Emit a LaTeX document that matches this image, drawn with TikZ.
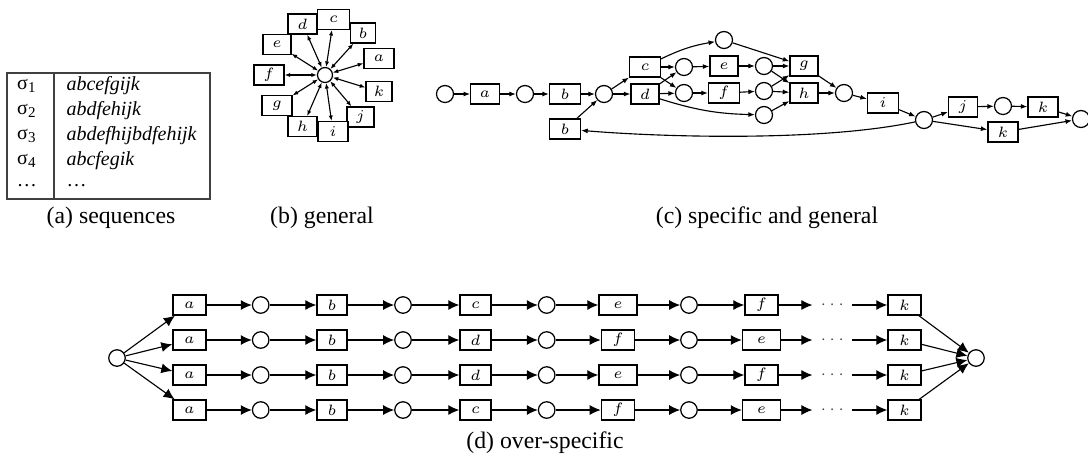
\documentclass[tikz,border=0pt]{standalone}
\usepackage{fontspec}
\setmainfont{Liberation Serif}
\usetikzlibrary{arrows.meta}
\begin{document}
\begin{tikzpicture}[x=0.4pt,y=-0.4pt,
  tbox/.style={draw, fill=white, line width=0.55pt, minimum height=8pt, minimum width=#1, inner sep=0pt, font=\fontsize{6.2}{7}\selectfont},
  tbox/.default=12pt,
  place/.style={circle, draw, fill=white, line width=0.5pt, minimum size=#1, inner sep=0pt},
  place/.default=6.8pt,
  sarc/.style={-{Latex[length=2.6pt,width=2pt]}, line width=0.45pt},
  garc/.style={{Latex[length=2.2pt,width=1.7pt]}-{Latex[length=2.2pt,width=1.7pt]}, line width=0.45pt},
  barc/.style={-{Latex[length=4.4pt,width=4pt]}, line width=0.45pt},
  captxt/.style={font=\fontsize{9.5}{11}\selectfont, inner sep=0pt},
  tabtxt/.style={font=\fontsize{8}{10}\selectfont, inner sep=0pt},
  dotnode/.style={minimum width=15.5pt, inner sep=0pt, font=\fontsize{6.5}{7}\selectfont, text=black!75},
]
\useasboundingbox (0,0) rectangle (1088,463);

% ---------------- (a) sequences
\draw[line width=0.5pt, black!75] (7,73) rectangle (210,199);
\draw[line width=0.5pt, black!75] (54,73) -- (54,199);
\node[tabtxt] (s1) at (27,85.6) {σ\textsubscript{1}};
\node[tabtxt] (s2) at (27,110.8) {σ\textsubscript{2}};
\node[tabtxt] (s3) at (27,136) {σ\textsubscript{3}};
\node[tabtxt] (s4) at (27,161) {σ\textsubscript{4}};
\node[tabtxt] (s5) at (27,186) {\dots};
\node[tabtxt, anchor=west] (w1) at (66,85.6) {\itshape abcefgijk};
\node[tabtxt, anchor=west] (w2) at (66,110.8) {\itshape abdfehijk};
\node[tabtxt, anchor=west] (w3) at (66,136) {\itshape abdefhijbdfehijk};
\node[tabtxt, anchor=west] (w4) at (66,161) {\itshape abcfegik};
\node[tabtxt, anchor=west] (w5) at (66,186) {\dots};
\node[captxt] (capa) at (111,218) {(a) sequences};

% ---------------- (b) general
\node[place=6pt] (g0) at (325,75) {};
\node[tbox=12.6pt] (gc) at (333.5,19.3) {$c$};
\node[tbox=11.6pt] (gd) at (302.5,24) {$d$};
\node[tbox=10pt]   (gb) at (363,33) {$b$};
\node[tbox=11.1pt] (ge) at (277,44.5) {$e$};
\node[tbox=12pt]   (ga) at (379,58.5) {$a$};
\node[tbox=12pt]   (gf) at (269,75) {$f$};
\node[tbox=10.4pt] (gk) at (379,91.7) {$k$};
\node[tbox=12pt]   (gg) at (277,105.3) {$g$};
\node[tbox=10.8pt] (gj) at (360.5,117) {$j$};
\node[tbox=11.6pt] (gh) at (302.5,126.7) {$h$};
\node[tbox=11.9pt] (gi) at (333,131.7) {$i$};
\foreach \nn in {a,b,c,d,e,f,g,h,i,j,k}
  \draw[garc] (g0) -- (g\nn);
\node[captxt] (capb) at (322,218) {(b) general};

% ---------------- (c) specific and general
\node[place] (p1) at (445,94) {};
\node[tbox=11.4pt] (ca) at (485,94) {$a$};
\node[place] (p2) at (525,94) {};
\node[tbox=12.3pt] (cb) at (565,94) {$b$};
\node[place] (p3) at (604,94) {};
\node[tbox=12.4pt] (cb2) at (565,129) {$b$};
\node[tbox=12.3pt] (cc) at (645,67) {$c$};
\node[tbox=11.2pt] (cd) at (645,94) {$d$};
\node[place] (p4) at (684,67) {};
\node[place] (p5) at (684,93) {};
\node[place] (ptop) at (724,40) {};
\node[tbox=11.2pt] (ce) at (724,66) {$e$};
\node[tbox=12.4pt] (cf) at (724,93) {$f$};
\node[place] (p6) at (764,66) {};
\node[place] (p7) at (764,91) {};
\node[place] (p8) at (764,115) {};
\node[tbox=11.2pt] (cg) at (804,66) {$g$};
\node[tbox=11.2pt] (ch) at (804,93) {$h$};
\node[place] (p9) at (844,93) {};
\node[tbox=12.4pt] (ci) at (883,103) {$i$};
\node[place] (p10) at (924,120) {};
\node[tbox=11.6pt] (cj) at (963,107) {$j$};
\node[place] (p11) at (1003,106) {};
\node[tbox=12pt] (ck1) at (1043,107) {$k$};
\node[tbox=12pt] (ck2) at (1003,132) {$k$};
\node[place] (p12) at (1081,119) {};

\draw[sarc] (p1) -- (ca);
\draw[sarc] (ca) -- (p2);
\draw[sarc] (p2) -- (cb);
\draw[sarc] (cb) -- (p3);
\draw[sarc] (cb2) -- (p3);
\draw[sarc] (p3) -- (cc);
\draw[sarc] (p3) -- (cd);
\draw[sarc] (cc) -- (p4);
\draw[sarc] (cc) -- (p5);
\draw[sarc] (cd) -- (p4);
\draw[sarc] (cd) -- (p5);
\draw[sarc] (cc) to[bend left=8] (ptop);
\draw[sarc] (cd) to[bend right=8] (p8);
\draw[sarc] (p4) -- (ce);
\draw[sarc] (p5) -- (cf);
\draw[sarc] (ce) -- (p6);
\draw[sarc] (cf) -- (p7);
\draw[sarc] (p6) -- (cg);
\draw[sarc] (p6) -- (ch);
\draw[sarc] (p7) -- (cg);
\draw[sarc] (p7) -- (ch);
\draw[sarc] (ptop) -- (cg);
\draw[sarc] (p8) -- (ch);
\draw[sarc] (cg) -- (p9);
\draw[sarc] (ch) -- (p9);
\draw[sarc] (p9) -- (ci);
\draw[sarc] (ci) -- (p10);
\draw[sarc] (p10) -- (cj);
\draw[sarc] (p10) -- (ck2);
\draw[sarc] (cj) -- (p11);
\draw[sarc] (p11) -- (ck1);
\draw[sarc] (ck1) -- (p12);
\draw[sarc] (ck2) -- (p12);
\draw[sarc] (p10) .. controls (820,142) and (660,137) .. (cb2);
\node[captxt] (capc) at (767,218) {(c) specific and general};

% ---------------- (d) over-specific
\node[place=6.6pt] (ds) at (117,358) {};
\node[place=6.6pt] (de) at (976,358) {};
\foreach \rr/\yy/\CC/\DD/\dw/\EE/\ew in {1/305/c/e/15.2pt/f/13.2pt, 2/340/d/f/13.3pt/e/15.2pt, 3/375/d/e/15.2pt/f/13.2pt, 4/410/c/f/13.3pt/e/15.2pt}{
  \node[tbox=13.2pt] (da\rr) at (189.5,\yy) {$a$};
  \node[place=6.6pt] (dq\rr) at (260.7,\yy) {};
  \node[tbox=12pt] (db\rr) at (332,\yy) {$b$};
  \node[place=6.6pt] (dr\rr) at (403,\yy) {};
  \node[tbox=12.4pt] (dc\rr) at (475.5,\yy) {$\CC$};
  \node[place=6.6pt] (ds\rr) at (546.7,\yy) {};
  \node[tbox=\dw] (dd\rr) at (618,\yy) {$\DD$};
  \node[place=6.6pt] (dt\rr) at (689,\yy) {};
  \node[tbox=\ew] (dx\rr) at (761.5,\yy) {$\EE$};
  \node[dotnode] (dz\rr) at (832.3,\yy) {$\cdots$};
  \node[tbox=13.2pt] (dk\rr) at (904.5,\yy) {$k$};
  \draw[barc] (ds) -- (da\rr);
  \draw[barc] (da\rr) -- (dq\rr);
  \draw[barc] (dq\rr) -- (db\rr);
  \draw[barc] (db\rr) -- (dr\rr);
  \draw[barc] (dr\rr) -- (dc\rr);
  \draw[barc] (dc\rr) -- (ds\rr);
  \draw[barc] (ds\rr) -- (dd\rr);
  \draw[barc] (dd\rr) -- (dt\rr);
  \draw[barc] (dt\rr) -- (dx\rr);
  \draw[barc] (dx\rr) -- (dz\rr);
  \draw[barc] (dz\rr) -- (dk\rr);
  \draw[barc] (dk\rr) -- (de);
}
\node[captxt] (capd) at (545,443) {(d) over-specific};
\end{tikzpicture}
\end{document}
